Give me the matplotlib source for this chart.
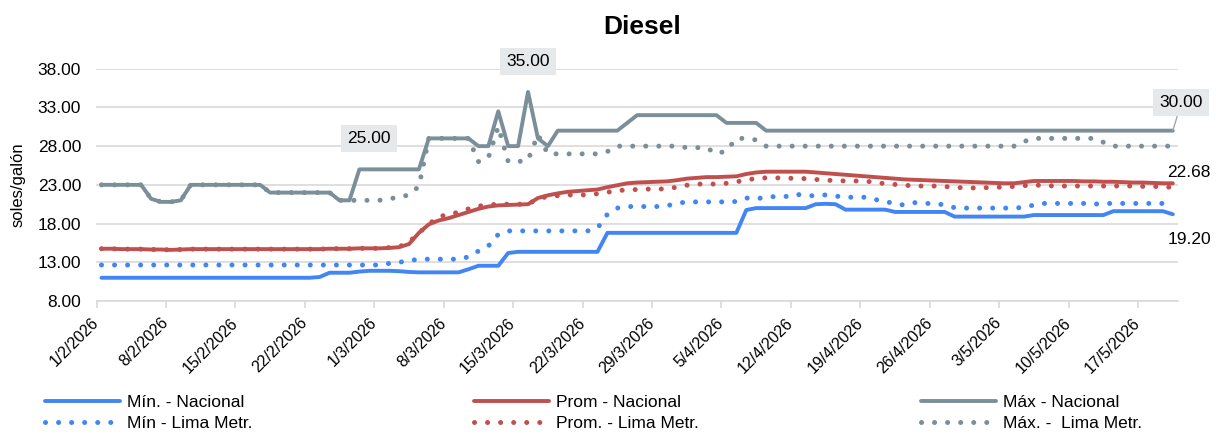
import matplotlib
matplotlib.use('Agg')
import matplotlib.pyplot as plt
import pandas as pd

plt.rcParams['font.family'] = ['Liberation Sans', 'DejaVu Sans']

# fechas diarias 1/2/2026 - 20/5/2026
start_date = '2026-02-01'
n_days = 109
tick_labels = ['1/2/2026', '8/2/2026', '15/2/2026', '22/2/2026', '1/3/2026', '8/3/2026',
               '15/3/2026', '22/3/2026', '29/3/2026', '5/4/2026', '12/4/2026', '19/4/2026',
               '26/4/2026', '3/5/2026', '10/5/2026', '17/5/2026']

max_nac = [23.0, 23.0, 23.0, 23.0, 23.0, 21.2, 20.8, 20.8, 21.0, 23.0,
           23.0, 23.0, 23.0, 23.0, 23.0, 23.0, 23.0, 22.0, 22.0, 22.0,
           22.0, 22.0, 22.0, 22.0, 21.0, 21.0, 25.0, 25.0, 25.0, 25.0,
           25.0, 25.0, 25.0, 29.0, 29.0, 29.0, 29.0, 29.0, 28.0, 28.0,
           32.5, 28.0, 28.0, 35.0, 29.0, 28.0, 30.0, 30.0, 30.0, 30.0,
           30.0, 30.0, 30.0, 31.0, 32.0, 32.0, 32.0, 32.0, 32.0, 32.0,
           32.0, 32.0, 32.0, 31.0, 31.0, 31.0, 31.0, 30.0, 30.0, 30.0,
           30.0, 30.0, 30.0, 30.0, 30.0, 30.0, 30.0, 30.0, 30.0, 30.0,
           30.0, 30.0, 30.0, 30.0, 30.0, 30.0, 30.0, 30.0, 30.0, 30.0,
           30.0, 30.0, 30.0, 30.0, 30.0, 30.0, 30.0, 30.0, 30.0, 30.0,
           30.0, 30.0, 30.0, 30.0, 30.0, 30.0, 30.0, 30.0, 30.0]

max_lima = [23.0, 23.0, 23.0, 23.0, 23.0, 21.2, 20.8, 20.8, 21.0, 23.0,
            23.0, 23.0, 23.0, 23.0, 23.0, 23.0, 23.0, 22.0, 22.0, 22.0,
            22.0, 22.0, 22.0, 22.0, 21.0, 21.0, 21.0, 21.0, 21.0, 21.2,
            21.4, 21.7, 22.8, 29.0, 29.0, 29.0, 29.0, 29.0, 26.0, 26.5,
            30.5, 26.0, 26.0, 26.2, 29.5, 27.0, 27.0, 27.0, 27.0, 27.0,
            27.0, 27.3, 28.0, 28.0, 28.0, 28.0, 28.0, 28.0, 28.0, 27.8,
            27.8, 27.8, 27.0, 27.4, 29.0, 29.0, 28.8, 28.0, 28.0, 28.0,
            28.0, 28.0, 28.0, 28.0, 28.0, 28.0, 28.0, 28.0, 28.0, 28.0,
            28.0, 28.0, 28.0, 28.0, 28.0, 28.0, 28.0, 28.0, 28.0, 28.0,
            28.0, 28.0, 28.0, 28.6, 29.0, 29.0, 29.0, 29.0, 29.0, 29.0,
            29.0, 28.5, 28.0, 28.0, 28.0, 28.0, 28.0, 28.0, 28.0]

prom_nac = [14.75, 14.75, 14.7, 14.7, 14.7, 14.65, 14.65, 14.6, 14.65, 14.7,
            14.7, 14.7, 14.7, 14.7, 14.7, 14.7, 14.7, 14.7, 14.7, 14.7,
            14.7, 14.7, 14.7, 14.75, 14.75, 14.75, 14.8, 14.8, 14.8, 14.85,
            14.95, 15.35, 16.8, 17.9, 18.4, 18.7, 19.1, 19.5, 19.9, 20.2,
            20.35, 20.4, 20.45, 20.5, 21.3, 21.65, 21.9, 22.1, 22.2, 22.3,
            22.4, 22.7, 22.95, 23.2, 23.3, 23.35, 23.4, 23.45, 23.6, 23.8,
            23.9, 24.0, 24.0, 24.05, 24.1, 24.4, 24.6, 24.7, 24.7, 24.7,
            24.7, 24.7, 24.6, 24.5, 24.4, 24.3, 24.2, 24.1, 24.0, 23.9,
            23.8, 23.7, 23.65, 23.6, 23.55, 23.5, 23.45, 23.4, 23.35, 23.3,
            23.25, 23.2, 23.2, 23.35, 23.5, 23.5, 23.5, 23.5, 23.5, 23.45,
            23.45, 23.4, 23.4, 23.35, 23.3, 23.3, 23.25, 23.2, 23.2]

prom_lima = [14.75, 14.75, 14.7, 14.7, 14.7, 14.65, 14.65, 14.6, 14.65, 14.7,
             14.7, 14.7, 14.7, 14.7, 14.7, 14.7, 14.7, 14.7, 14.7, 14.7,
             14.7, 14.7, 14.7, 14.75, 14.75, 14.75, 14.8, 14.8, 14.8, 14.9,
             15.0, 15.6, 16.8, 17.9, 18.95, 19.1, 19.5, 19.9, 20.25, 20.4,
             20.5, 20.5, 20.5, 20.5, 21.2, 21.5, 21.6, 21.7, 21.7, 21.7,
             21.85, 22.05, 22.25, 22.35, 22.4, 22.45, 22.45, 22.5, 22.7, 22.95,
             23.1, 23.1, 23.1, 23.2, 23.4, 23.6, 23.85, 23.9, 23.9, 23.85,
             23.85, 23.8, 23.7, 23.6, 23.55, 23.5, 23.5, 23.5, 23.3, 23.15,
             23.05, 22.95, 22.85, 22.85, 22.85, 22.78, 22.7, 22.6, 22.6, 22.62,
             22.7, 22.7, 22.8, 22.9, 22.95, 22.95, 22.85, 22.85, 22.85, 22.85,
             22.85, 22.85, 22.85, 22.85, 22.85, 22.8, 22.8, 22.75, 22.68]

min_nac = [11.0, 11.0, 11.0, 11.0, 11.0, 11.0, 11.0, 11.0, 11.0, 11.0,
           11.0, 11.0, 11.0, 11.0, 11.0, 11.0, 11.0, 11.0, 11.0, 11.0,
           11.0, 11.0, 11.1, 11.65, 11.65, 11.65, 11.8, 11.9, 11.9, 11.9,
           11.85, 11.75, 11.7, 11.7, 11.7, 11.7, 11.7, 12.1, 12.55, 12.55,
           12.55, 14.2, 14.35, 14.35, 14.35, 14.35, 14.35, 14.35, 14.35, 14.35,
           14.35, 16.8, 16.8, 16.8, 16.8, 16.8, 16.8, 16.8, 16.8, 16.8,
           16.8, 16.8, 16.8, 16.8, 16.8, 19.75, 20.0, 20.0, 20.0, 20.0,
           20.0, 20.0, 20.5, 20.55, 20.5, 19.8, 19.8, 19.8, 19.8, 19.8,
           19.5, 19.5, 19.5, 19.5, 19.5, 19.5, 18.9, 18.9, 18.9, 18.9,
           18.9, 18.9, 18.9, 18.9, 19.1, 19.1, 19.1, 19.1, 19.1, 19.1,
           19.1, 19.1, 19.6, 19.6, 19.6, 19.6, 19.6, 19.6, 19.2]

min_lima = [12.65, 12.65, 12.65, 12.65, 12.65, 12.65, 12.65, 12.65, 12.65, 12.65,
            12.65, 12.65, 12.65, 12.65, 12.65, 12.65, 12.65, 12.65, 12.65, 12.65,
            12.65, 12.65, 12.65, 12.65, 12.65, 12.65, 12.65, 12.65, 12.65, 12.85,
            13.0, 13.2, 13.4, 13.4, 13.4, 13.4, 13.4, 13.7, 14.45, 15.1,
            16.6, 17.05, 17.05, 17.05, 17.05, 17.05, 17.05, 17.05, 17.05, 17.05,
            17.4, 19.2, 20.0, 20.2, 20.2, 20.2, 20.2, 20.3, 20.6, 20.8,
            20.8, 20.8, 20.8, 20.8, 20.85, 21.3, 21.2, 21.4, 21.5, 21.5,
            21.8, 21.6, 21.6, 21.7, 21.55, 21.4, 21.4, 21.4, 21.1, 20.9,
            20.5, 20.4, 20.7, 20.6, 20.6, 20.4, 20.05, 20.0, 20.0, 20.0,
            20.0, 20.0, 20.0, 20.1, 20.4, 20.6, 20.6, 20.6, 20.6, 20.6,
            20.5, 20.6, 20.6, 20.6, 20.6, 20.6, 20.6, 20.6, 20.6]

blue = '#4285F4'
red = '#C0504D'
grey = '#7A8F99'

dates = pd.date_range(start_date, periods=n_days, freq='D')
xs = dates + pd.Timedelta(hours=12)

fig = plt.figure(figsize=(12.16, 4.34), dpi=100)
ax = fig.add_axes([96.5 / 1216, 133 / 434, 1081.3 / 1216, 232.3 / 434])

solid = dict(lw=2.8, solid_capstyle='round', solid_joinstyle='round')
dotted = dict(lw=3.6, linestyle=(0, (0.01, 2.6)), dash_capstyle='round')

ax.plot(xs, min_nac, color=blue, label='Mín. - Nacional', **solid)
ax.plot(xs, prom_nac, color=red, label='Prom - Nacional', **solid)
ax.plot(xs, max_nac, color=grey, label='Máx - Nacional', **solid)
ax.plot(xs, min_lima, color=blue, label='Mín - Lima Metr.', **dotted)
ax.plot(xs, prom_lima, color=red, label='Prom. - Lima Metr.', **dotted)
ax.plot(xs, max_lima, color=grey, label='Máx. -  Lima Metr.', **dotted)

ax.set_ylim(8, 38)
ax.set_yticks([8, 13, 18, 23, 28, 33, 38])
ax.set_yticklabels([f'{v:.2f}' for v in [8, 13, 18, 23, 28, 33, 38]], fontsize=12.5)
ax.set_xlim(dates[0], dates[-1] + pd.Timedelta(days=1))
tick_dates = pd.date_range(start_date, periods=len(tick_labels), freq='7D')
ax.set_xticks(tick_dates)
ax.set_xticklabels(tick_labels, rotation=45, ha='right', va='center',
                   rotation_mode='anchor', fontsize=11.5)

ax.grid(axis='y', color='#d9d9d9', lw=1.2)
ax.set_axisbelow(True)
for s in ['top', 'right', 'left']:
    ax.spines[s].set_visible(False)
ax.spines['bottom'].set_color('#d9d9d9')
ax.spines['bottom'].set_linewidth(1.2)
ax.tick_params(axis='y', length=0, pad=11)
ax.tick_params(axis='x', length=5, color='#d9d9d9', width=1.2, pad=9)

ax.set_ylabel('soles/galón', fontsize=12)
ax.yaxis.set_label_coords(-0.066, 0.5)

fig.text(0.528, 0.938, 'Diesel', ha='center', va='center', fontsize=19, fontweight='bold')

# etiquetas de datos
box = dict(boxstyle='square,pad=0.35', fc='#e6e9eb', ec='none')
ax.annotate('25.00', (xs[27], max_nac[27]), xytext=(0, 22), textcoords='offset points',
            ha='center', va='center', fontsize=12.5, bbox=box)
ax.annotate('35.00', (xs[43], max_nac[43]), xytext=(0, 22), textcoords='offset points',
            ha='center', va='center', fontsize=12.5, bbox=box, annotation_clip=False)
ax.annotate('30.00', (xs[-1], max_nac[-1]), xytext=(6, 20), textcoords='offset points',
            ha='center', va='center', fontsize=12.5, bbox=box, annotation_clip=False,
            arrowprops=dict(arrowstyle='-', color='#a6a6a6', lw=1, shrinkA=0, shrinkB=0))
ax.annotate('22.68', (xs[-1], prom_lima[-1]), xytext=(-4, 11), textcoords='offset points',
            ha='left', va='center', fontsize=12.5, annotation_clip=False)
ax.annotate('19.20', (xs[-1], min_nac[-1]), xytext=(-4, -18), textcoords='offset points',
            ha='left', va='center', fontsize=12.5, annotation_clip=False)

order = [0, 3, 1, 4, 2, 5]
h, l = ax.get_legend_handles_labels()
fig.legend([h[i] for i in order], [l[i] for i in order], ncol=3, mode='expand',
           loc='center', bbox_to_anchor=(0.037, 0.049, 0.902, 0), frameon=False,
           fontsize=12.5, handlelength=4.3, handletextpad=0.4, labelspacing=0.35,
           borderpad=0, borderaxespad=0)

fig.savefig('out.png', dpi=100)
